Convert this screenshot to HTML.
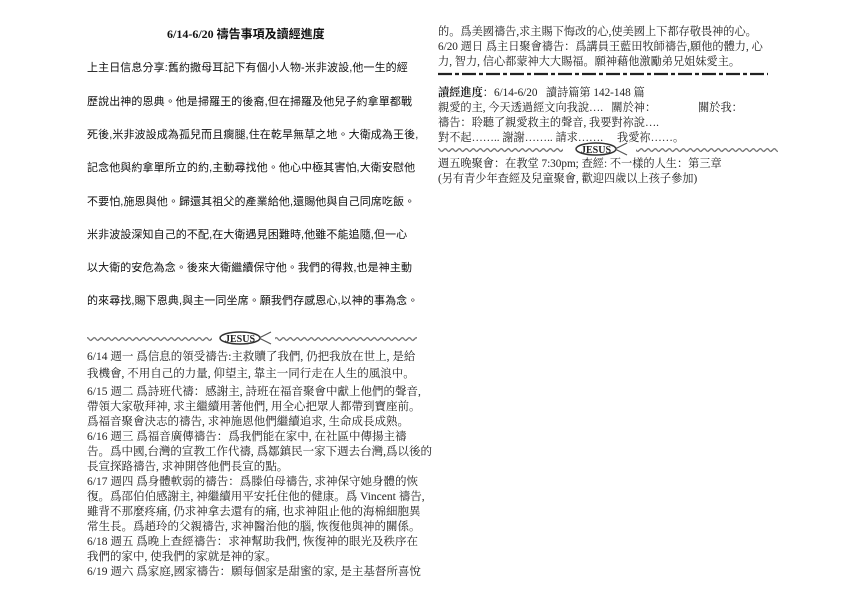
<!DOCTYPE html>
<html><head><meta charset="utf-8"><style>
body{margin:0;width:842px;height:595px;background:#fff;position:relative;overflow:hidden;color:#111}
.t{position:absolute;white-space:nowrap}
.sans{font-family:"Liberation Sans","Noto Sans CJK TC",sans-serif;font-size:11px;letter-spacing:0.1px}
.ser{font-family:"Liberation Serif","Noto Serif CJK SC","Noto Sans CJK TC",serif;font-size:11.5px;color:#222}
.r{font-size:11.2px}
</style></head><body>
<div class="t" style="left:167px;top:25px;font-family:'Liberation Serif','Noto Sans CJK TC',serif;font-weight:bold;font-size:12px">6/14-6/20 禱告事項及讀經進度</div>
<div class="sans">
<div class="t" style="left:87px;top:59px">上主日信息分享:舊約撒母耳記下有個小人物-米非波設,他一生的經</div>
<div class="t" style="left:87px;top:93px">歷說出神的恩典。他是掃羅王的後裔,但在掃羅及他兒子約拿單都戰</div>
<div class="t" style="left:87px;top:126px">死後,米非波設成為孤兒而且瘸腿,住在乾旱無草之地。大衛成為王後,</div>
<div class="t" style="left:87px;top:159px">記念他與約拿單所立的約,主動尋找他。他心中極其害怕,大衛安慰他</div>
<div class="t" style="left:87px;top:193px">不要怕,施恩與他。歸還其祖父的產業給他,還賜他與自己同席吃飯。</div>
<div class="t" style="left:87px;top:226px">米非波設深知自己的不配,在大衛遇見困難時,他雖不能追隨,但一心</div>
<div class="t" style="left:87px;top:259px">以大衛的安危為念。後來大衛繼續保守他。我們的得救,也是神主動</div>
<div class="t" style="left:87px;top:292px">的來尋找,賜下恩典,與主一同坐席。願我們存感恩心,以神的事為念。</div>
</div>
<svg class="t" style="left:85px;top:330px" width="335" height="16">
<defs><pattern id="w" width="7" height="6" patternUnits="userSpaceOnUse"><path d="M0 4 Q2 0 4 3 T7 3" stroke="#777" fill="none" stroke-width="1.3"/></pattern></defs>
<rect x="2" y="6" width="125" height="6" fill="url(#w)"/>
<rect x="190" y="6" width="142" height="6" fill="url(#w)"/>
<ellipse cx="155" cy="8" rx="20" ry="6" fill="#fff" stroke="#333" stroke-width="1.5"/>
<path d="M174 8 L186 2 M174 8 L186 14" stroke="#555" stroke-width="1.2"/>
<text x="155" y="12" font-family="Liberation Serif" font-weight="bold" font-size="10" text-anchor="middle" fill="#222">JESUS</text>
</svg>
<div class="ser">
<div class="t" style="left:87px;top:348px">6/14 週一 爲信息的領受禱告:主救贖了我們, 仍把我放在世上, 是給</div>
<div class="t" style="left:87px;top:365px">我機會, 不用自己的力量, 仰望主, 靠主一同行走在人生的風浪中。</div>
<div class="t" style="left:87px;top:383px">6/15 週二 爲詩班代禱：感謝主, 詩班在福音聚會中獻上他們的聲音,</div>
<div class="t" style="left:87px;top:398px">帶領大家敬拜神, 求主繼續用著他們, 用全心把眾人都帶到寶座前。</div>
<div class="t" style="left:87px;top:413px">爲福音聚會決志的禱告, 求神施恩他們繼續追求, 生命成長成熟。</div>
<div class="t" style="left:87px;top:428px">6/16 週三 爲福音廣傳禱告：爲我們能在家中, 在社區中傳揚主禱</div>
<div class="t" style="left:87px;top:443px">告。爲中國,台灣的宣教工作代禱, 爲鄒鎮民一家下週去台灣,爲以後的</div>
<div class="t" style="left:87px;top:458px">長宣探路禱告, 求神開啓他們長宣的點。</div>
<div class="t" style="left:87px;top:473px">6/17 週四 爲身體軟弱的禱告：爲滕伯母禱告, 求神保守她身體的恢</div>
<div class="t" style="left:87px;top:488px">復。爲邵伯伯感謝主, 神繼續用平安托住他的健康。爲 Vincent 禱告,</div>
<div class="t" style="left:87px;top:503px">雖背不那麼疼痛, 仍求神拿去還有的痛, 也求神阻止他的海棉細胞異</div>
<div class="t" style="left:87px;top:518px">常生長。爲趙玲的父親禱告, 求神醫治他的腦, 恢復他與神的關係。</div>
<div class="t" style="left:87px;top:533px">6/18 週五 爲晚上查經禱告：求神幫助我們, 恢復神的眼光及秩序在</div>
<div class="t" style="left:87px;top:548px">我們的家中, 使我們的家就是神的家。</div>
<div class="t" style="left:87px;top:563px">6/19 週六 爲家庭,國家禱告：願每個家是甜蜜的家, 是主基督所喜悅</div>
<div class="r">
<div class="t" style="left:438px;top:23px">的。爲美國禱告,求主賜下悔改的心,使美國上下都存敬畏神的心。</div>
<div class="t" style="left:438px;top:38px">6/20 週日 爲主日聚會禱告：爲講員王藍田牧師禱告,願他的體力, 心</div>
<div class="t" style="left:438px;top:53px">力, 智力, 信心都蒙神大大賜福。願神藉他激勵弟兄姐妹愛主。</div>
<div class="t" style="left:438px;top:84px"><b>讀經進度</b>：6/14-6/20 &nbsp; 讀詩篇第 142-148 篇</div>
<div class="t" style="left:438px;top:99px">親愛的主, 今天透過經文向我說…. &nbsp; 關於神： &nbsp; &nbsp; &nbsp; &nbsp; &nbsp; &nbsp; &nbsp; 關於我：</div>
<div class="t" style="left:438px;top:114px">禱告：聆聽了親愛救主的聲音, 我要對祢說….</div>
<div class="t" style="left:438px;top:129px">對不起…….. 謝謝…….. 請求……. &nbsp; &nbsp; 我愛祢……。</div>
<div class="t" style="left:438px;top:155px">週五晚聚會：在教堂 7:30pm; 查經: 不一樣的人生：第三章</div>
<div class="t" style="left:438px;top:170px">(另有青少年查經及兒童聚會, 歡迎四歲以上孩子參加)</div>
</div>
</div>
<svg class="t" style="left:436px;top:70px" width="335" height="8"><line x1="2" y1="4" x2="332" y2="4" stroke="#222" stroke-width="2.2" stroke-dasharray="14 3 4 3"/></svg>
<svg class="t" style="left:436px;top:141px" width="345" height="16">
<rect x="2" y="6" width="125" height="6" fill="url(#w)"/>
<rect x="200" y="6" width="142" height="6" fill="url(#w)"/>
<ellipse cx="160" cy="8" rx="20" ry="6" fill="#fff" stroke="#333" stroke-width="1.5"/>
<path d="M179 8 L191 2 M179 8 L191 14" stroke="#555" stroke-width="1.2"/>
<text x="160" y="12" font-family="Liberation Serif" font-weight="bold" font-size="10" text-anchor="middle" fill="#222">JESUS</text>
</svg>
</body></html>
